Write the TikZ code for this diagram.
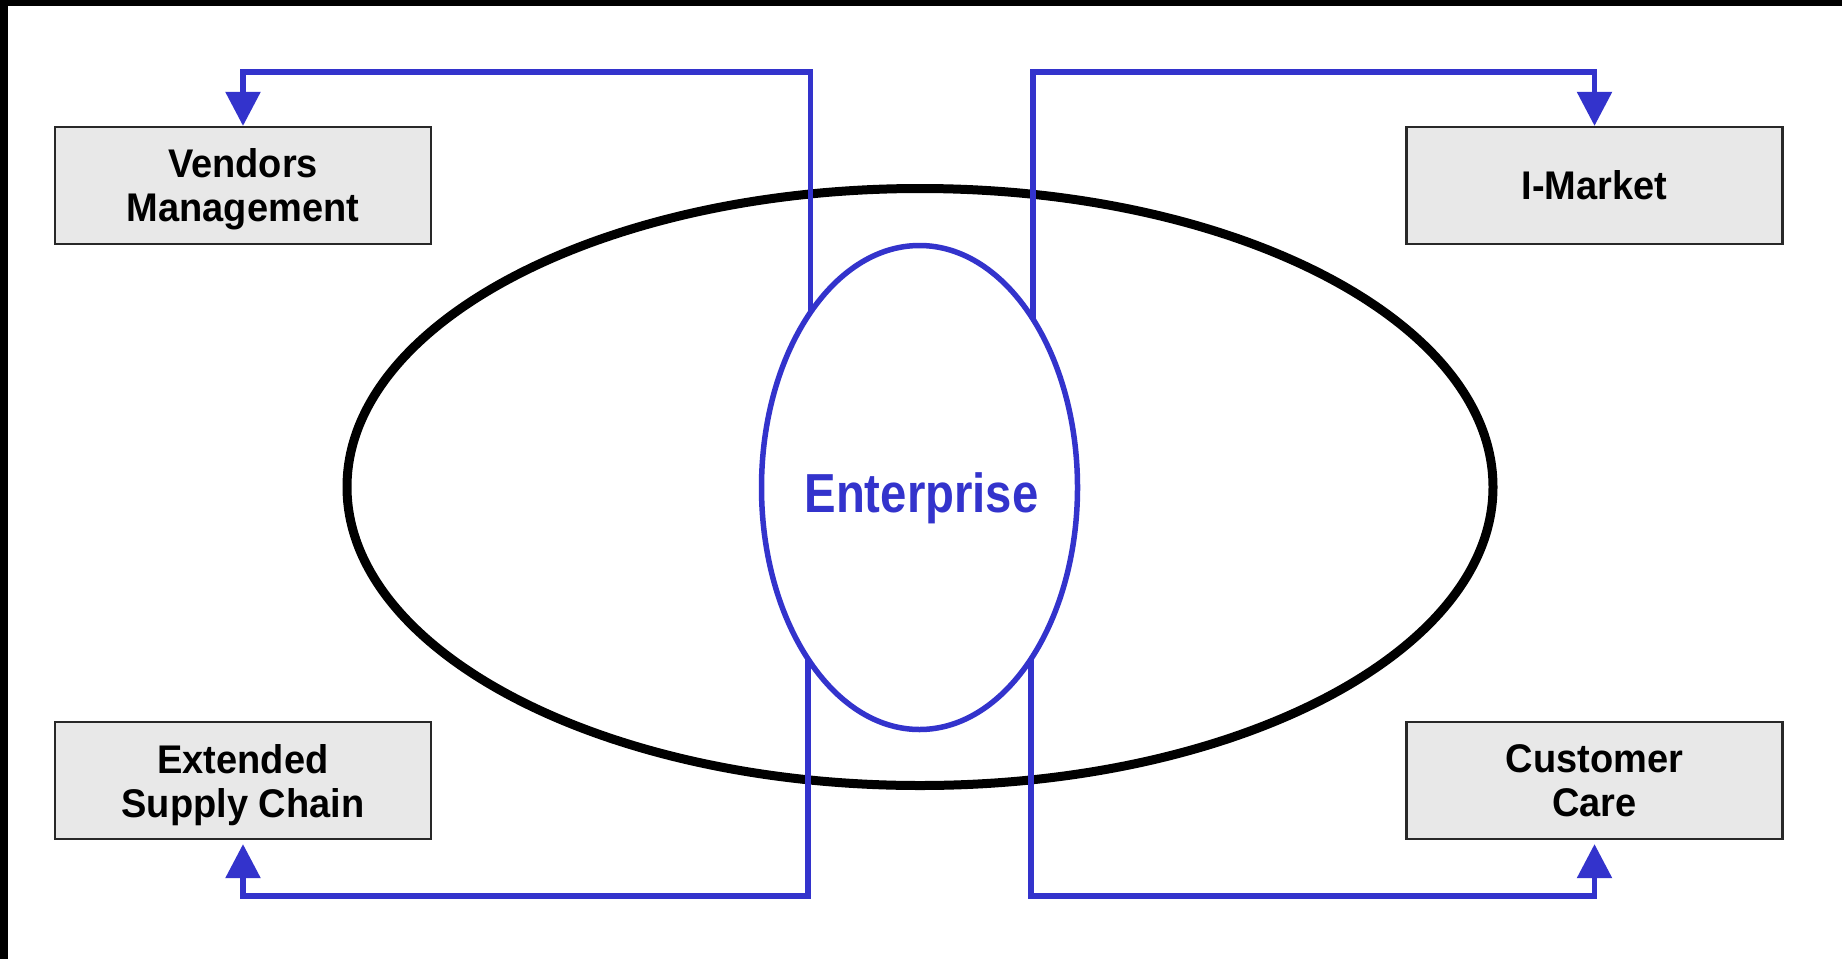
\documentclass[tikz,border=0pt]{standalone}
\usepackage{fontspec}
\setmainfont{Liberation Sans}
\newfontfamily\boxfont[FakeStretch=0.95]{Liberation Sans Bold}
\newfontfamily\entfont[FakeStretch=0.86]{Liberation Sans Bold}
\usetikzlibrary{arrows.meta,shapes.geometric,calc}
\definecolor{eblue}{RGB}{51,51,204}
\definecolor{boxfill}{RGB}{232,232,232}
\definecolor{boxline}{RGB}{40,40,40}
\begin{document}
\begin{tikzpicture}[x=1pt,y=-1pt,
  box/.style={draw=boxline, line width=2.2pt, fill=boxfill, minimum width=376pt, minimum height=117pt,
    inner sep=0pt, align=center, font=\boxfont\fontsize{40}{44}\selectfont, text depth=0pt},
  flow/.style={draw=eblue, line width=5.5pt, line join=miter, -{Triangle[width=34pt,length=34pt]}}]
\useasboundingbox (0,0) rectangle (1842,959);
\fill[black] (0,0) rectangle (1842,959);
\fill[white] (8,6) rectangle (1842,959);

\node[ellipse, draw=black, line width=9pt, minimum width=1146pt, minimum height=597pt, inner sep=0pt, outer sep=0pt] (org) at (920,487) {};
\node[ellipse, draw=eblue, line width=5.5pt, minimum width=316pt, minimum height=484pt, inner sep=0pt, outer sep=0pt] (ent) at (919.5,487.5) {};
\node[anchor=base, text=eblue, font=\entfont\fontsize{55}{60}\selectfont, inner sep=0pt] (lbl) at (921.5,512) {Enterprise};

\node[box] (vm) at (243,185.5) {Vendors\\Management};
\node[box] (im) at (1594.5,185.5) {I-Market};
\node[box] (sc) at (243,780.5) {Extended\\Supply Chain};
\node[box] (cc) at (1594.5,780.5) {Customer\\Care};

\draw[flow] (ent.122.5) |- ($(vm.north)+(0,-54)$) -- (vm.north);
\draw[flow] (ent.56.6) |- ($(im.north)+(0,-54)$) -- (im.north);
\draw[flow, shorten >=4pt] (ent.237.5) |- ($(sc.south)+(0,56)$) -- (sc.south);
\draw[flow, shorten >=4pt] (ent.303.4) |- ($(cc.south)+(0,56)$) -- (cc.south);
\end{tikzpicture}
\end{document}
